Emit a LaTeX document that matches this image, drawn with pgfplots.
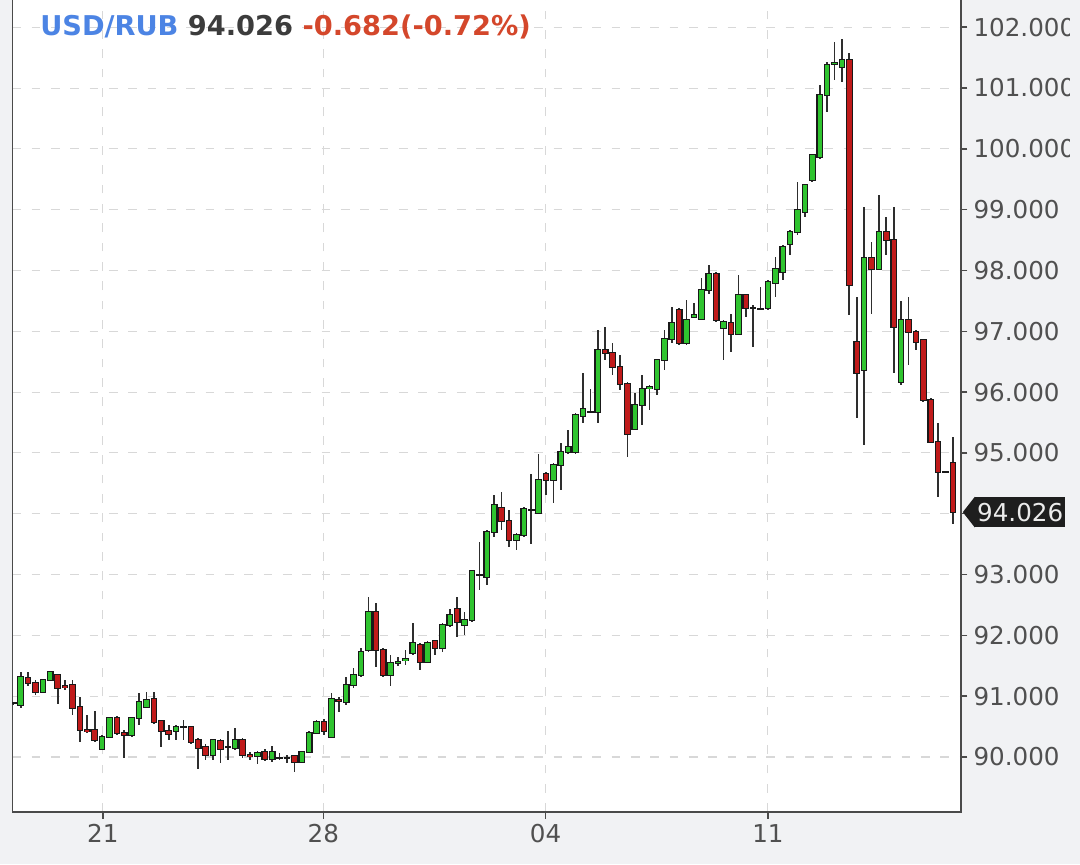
\documentclass[border=0pt]{standalone}
\usepackage{pgfplots}
\pgfplotsset{compat=1.18}
\usepackage{pgfplotstable}
\usepackage{fontspec}
\setmainfont{DejaVu Sans}

\definecolor{bgc}{HTML}{F1F2F4}
\definecolor{upc}{HTML}{2FC42F}
\definecolor{dnc}{HTML}{C01A1A}
\definecolor{gridc}{HTML}{D8D8D8}
\definecolor{axc}{HTML}{4A4A4A}
\definecolor{tickc}{HTML}{505050}
\definecolor{wickc}{HTML}{2E2E2E}
\definecolor{boxc}{HTML}{1E1E1E}
\definecolor{titleblue}{HTML}{4C84E4}
\definecolor{titlegray}{HTML}{3C3C3C}
\definecolor{titlered}{HTML}{D4472B}

% rising candles (close >= open)
\pgfplotstableread{
i O H L C
-1 90.88 90.90 90.86 90.88
0 90.85 91.40 90.80 91.32
3 91.07 91.29 91.05 91.27
4 91.27 91.40 91.26 91.39
11 90.13 90.36 90.12 90.33
12 90.33 90.66 90.31 90.64
15 90.36 90.66 90.33 90.64
16 90.64 91.05 90.53 90.91
17 90.83 91.07 90.80 90.94
21 90.42 90.53 90.28 90.49
22 90.49 90.61 90.28 90.49
26 90.03 90.29 89.95 90.28
28 90.16 90.42 89.95 90.16
29 90.14 90.47 90.12 90.28
32 90.01 90.10 89.89 90.07
34 89.96 90.18 89.92 90.08
35 89.98 90.06 89.95 89.98
36 89.98 90.03 89.91 89.98
38 89.91 90.10 89.90 90.09
39 90.09 90.42 90.06 90.40
40 90.40 90.61 90.39 90.58
42 90.33 91.05 90.31 90.95
44 90.91 91.32 90.85 91.18
45 91.18 91.46 91.13 91.35
46 91.35 91.79 91.32 91.73
47 91.76 92.63 91.73 92.39
50 91.35 91.68 91.16 91.54
51 91.55 91.65 91.49 91.57
52 91.59 91.76 91.51 91.61
53 91.71 92.20 91.68 91.87
55 91.57 91.90 91.54 91.87
57 91.79 92.20 91.73 92.17
58 92.17 92.44 92.14 92.33
60 92.17 92.39 92.00 92.25
61 92.25 93.07 92.22 93.05
62 93.00 93.54 92.75 93.00
63 92.96 93.73 92.83 93.70
64 93.70 94.31 93.62 94.14
67 93.57 93.69 93.41 93.65
68 93.65 94.11 93.62 94.07
69 94.07 94.66 93.51 94.07
70 94.02 94.99 93.99 94.55
72 94.55 94.83 94.17 94.80
73 94.80 95.16 94.39 95.02
74 95.02 95.38 94.99 95.10
75 95.02 95.65 94.99 95.62
76 95.60 96.31 95.49 95.73
77 95.68 96.06 95.65 95.68
78 95.68 97.02 95.49 96.69
83 95.40 95.98 95.38 95.79
84 95.79 96.28 95.46 96.06
85 96.06 96.12 95.70 96.08
86 96.06 96.55 95.95 96.53
87 96.53 97.02 96.36 96.87
88 96.87 97.40 96.80 97.13
90 96.80 97.51 96.77 97.18
91 97.24 97.46 97.22 97.27
92 97.21 97.87 97.18 97.68
93 97.68 98.09 97.62 97.95
95 97.05 97.18 96.53 97.16
97 96.95 97.92 96.94 97.59
99 97.38 97.43 96.75 97.38
100 97.37 97.73 97.35 97.37
101 97.38 97.84 97.35 97.81
102 97.79 98.23 97.57 98.03
103 97.98 98.42 97.84 98.39
104 98.44 98.66 98.25 98.64
105 98.64 99.46 98.58 98.99
106 98.97 99.43 98.88 99.40
107 99.49 99.92 99.46 99.90
108 99.87 101.05 99.84 100.88
109 100.88 101.43 100.61 101.38
110 101.40 101.76 101.13 101.41
111 101.35 101.80 101.10 101.46
114 96.36 99.05 95.13 98.21
116 98.03 99.24 98.01 98.64
119 96.17 97.49 96.12 97.18
125 94.69 94.71 94.67 94.69
}\upcandles

% falling candles (close < open)
\pgfplotstableread{
i O H L C
1 91.30 91.40 91.16 91.21
2 91.22 91.27 91.02 91.07
5 91.35 91.37 90.88 91.13
6 91.16 91.27 91.10 91.15
7 91.18 91.27 90.69 90.80
8 90.82 90.99 90.25 90.44
9 90.45 90.69 90.39 90.42
10 90.45 90.75 90.25 90.28
13 90.64 90.67 90.36 90.39
14 90.40 90.44 89.98 90.36
18 90.95 91.07 90.55 90.58
19 90.59 90.61 90.17 90.42
20 90.42 90.53 90.28 90.38
23 90.49 90.50 90.22 90.25
24 90.28 90.31 89.81 90.14
25 90.17 90.22 89.95 90.03
27 90.27 90.29 89.90 90.14
30 90.28 90.31 89.98 90.03
31 90.03 90.09 89.95 90.02
33 90.09 90.14 89.94 89.96
37 90.01 90.03 89.76 89.92
41 90.58 90.62 90.36 90.42
43 90.94 90.99 90.74 90.92
48 92.39 92.53 91.48 91.76
49 91.76 91.79 91.32 91.35
54 91.84 91.87 91.43 91.57
56 91.90 91.92 91.68 91.79
59 92.44 92.63 91.98 92.22
65 94.10 94.35 93.73 93.88
66 93.88 94.06 93.46 93.57
71 94.66 94.69 94.31 94.55
79 96.69 97.07 96.53 96.64
80 96.64 96.80 96.28 96.42
81 96.42 96.61 96.03 96.14
82 96.14 96.17 94.94 95.32
89 97.35 97.38 96.77 96.80
94 97.95 97.98 97.16 97.18
96 97.13 97.29 96.66 96.95
98 97.59 97.62 97.24 97.38
112 101.47 101.57 97.27 97.76
113 96.83 97.57 95.57 96.31
115 98.21 98.47 97.29 98.03
117 98.64 98.88 98.25 98.50
118 98.50 99.05 96.31 97.07
120 97.18 97.57 96.44 96.99
121 96.99 97.02 96.69 96.83
122 96.85 96.88 95.84 95.87
123 95.87 95.90 95.16 95.18
124 95.18 95.49 94.28 94.69
126 94.83 95.27 93.84 94.03
}\downcandles

\pgfplotsset{
  wick/.style={draw=none, mark=none,
    error bars/.cd, y dir=both, y explicit, error mark=none,
    error bar style={draw=wickc, line width=0.95pt}},
  bodyline/.style={draw=none, mark=none,
    error bars/.cd, y dir=both, y explicit, error mark=none,
    error bar style={draw=black!90, line width=0.134cm}},
  bodyfill/.style={draw=none, mark=none,
    error bars/.cd, y dir=both, y explicit, error mark=none,
    error bar style={draw=#1, line width=0.088cm}},
}

\begin{document}
\begin{tikzpicture}
\useasboundingbox (0,0) rectangle (21.6cm,17.28cm);
\fill[bgc] (0,0) rectangle (21.6cm,17.28cm);
\clip (0,0) rectangle (21.38cm,17.28cm);
\begin{axis}[
  at={(0.246cm,1.04cm)}, anchor=south west,
  scale only axis, width=18.97cm, height=16.34cm,
  xmin=-1.135, xmax=127.07, ymin=89.095, ymax=102.53,
  axis background/.style={fill=white},
  axis line style={draw=axc, line width=0.85pt},
  xtick={11.1,40.9,70.95,101.0}, xticklabels={21,28,04,11},
  ytick={90,91,...,102},
  yticklabels={90.000,91.000,92.000,93.000,,95.000,96.000,97.000,98.000,99.000,100.000,101.000,102.000},
  xtick pos=left, ytick pos=right, yticklabel pos=right,
  tick align=outside, major tick length=0.13cm,
  tick style={draw=axc, line width=0.85pt},
  grid=major,
  major grid style={draw=gridc, dash pattern=on 5pt off 6pt, line width=0.6pt},
  ticklabel style={font=\fontsize{14}{16}\selectfont, text=tickc},
  clip mode=individual,
]
% wicks
\addplot[wick] table[x=i, y expr={(\thisrow{H}+\thisrow{L})/2}, y error expr={(\thisrow{H}-\thisrow{L})/2}] {\upcandles};
\addplot[wick] table[x=i, y expr={(\thisrow{H}+\thisrow{L})/2}, y error expr={(\thisrow{H}-\thisrow{L})/2}] {\downcandles};
% body outlines
\addplot[bodyline] table[x=i, y expr={(\thisrow{O}+\thisrow{C})/2}, y error expr={(\thisrow{C}-\thisrow{O})/2+0.0164}] {\upcandles};
\addplot[bodyline] table[x=i, y expr={(\thisrow{O}+\thisrow{C})/2}, y error expr={(\thisrow{O}-\thisrow{C})/2+0.0164}] {\downcandles};
% body fills
\addplot[bodyfill=upc] table[x=i, y expr={(\thisrow{O}+\thisrow{C})/2}, y error expr={(\thisrow{C}-\thisrow{O})/2}] {\upcandles};
\addplot[bodyfill=dnc] table[x=i, y expr={(\thisrow{O}+\thisrow{C})/2}, y error expr={(\thisrow{O}-\thisrow{C})/2}] {\downcandles};
\coordinate (pp) at (axis cs:127.07,94.026);
\end{axis}
\node[fill=boxc, text=white!92!black, font=\fontsize{14}{16}\selectfont, anchor=west,
      inner xsep=0.04cm, inner ysep=0pt, minimum height=0.6cm] (pl) at ([xshift=0.28cm]pp) {94.026};
\fill[boxc] (pl.north west) -- ([xshift=0.04cm]pp) -- (pl.south west) -- cycle;
\node[anchor=base west, inner sep=0pt, font=\fontsize{15.5}{18}\selectfont\bfseries]
  at (0.8cm,16.56cm) {\textcolor{titleblue}{USD/RUB} \textcolor{titlegray}{94.026} \textcolor{titlered}{-0.682(-0.72\%)}};
\end{tikzpicture}
\end{document}
